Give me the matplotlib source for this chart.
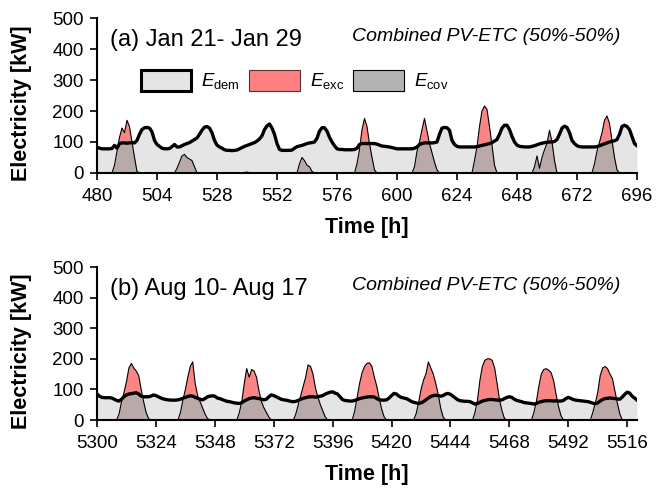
import numpy as np
import matplotlib
matplotlib.use('Agg')
import matplotlib.pyplot as plt
from matplotlib.patches import Patch

plt.rcParams['font.family'] = 'Liberation Sans'
plt.rcParams['mathtext.fontset'] = 'custom'
plt.rcParams['mathtext.rm'] = 'Liberation Sans'
plt.rcParams['mathtext.it'] = 'Liberation Sans:italic'

# (a) Jan 21 - Jan 29, hourly values from h=480 to h=696 [kW]
dem_a = [84, 80, 78, 78, 78, 78, 79, 89, 80, 95, 97, 97, 96, 97, 98, 97, 105, 125, 140, 146, 147, 145, 133, 105,
         92, 86, 80, 78, 78, 79, 85, 92, 84, 84, 88, 92, 95, 98, 103, 108, 113, 125, 138, 148, 150, 145, 130, 105,
         90, 84, 80, 75, 73, 73, 72, 73, 74, 78, 82, 86, 89, 92, 95, 98, 103, 110, 120, 140, 152, 158, 145, 125,
         95, 76, 73, 73, 73, 73, 74, 80, 85, 87, 89, 92, 95, 97, 98, 100, 112, 135, 146, 146, 135, 115, 100, 88,
         78, 76, 76, 75, 75, 75, 75, 76, 80, 92, 95, 95, 95, 95, 95, 95, 93, 90, 87, 86, 85, 84, 82, 80,
         78, 78, 78, 78, 78, 78, 78, 80, 84, 92, 95, 97, 97, 97, 97, 98, 100, 125, 145, 147, 146, 138, 105, 92,
         86, 84, 84, 84, 84, 84, 84, 84, 85, 87, 89, 91, 93, 95, 98, 103, 108, 125, 145, 154, 154, 140, 118, 100,
         90, 86, 85, 84, 84, 84, 86, 88, 91, 94, 96, 98, 99, 100, 100, 102, 108, 125, 145, 151, 147, 130, 105, 95,
         88, 85, 84, 84, 84, 84, 84, 84, 85, 88, 91, 94, 97, 100, 102, 104, 108, 125, 150, 154, 150, 140, 118, 95,
         88]
prod_a = [0, 0, 0, 0, 0, 0, 0, 25, 70, 115, 145, 130, 170, 150, 100, 50, 5, 0, 0, 0, 0, 0, 0, 0,
          0, 0, 0, 0, 0, 0, 0, 0, 15, 35, 55, 60, 50, 45, 40, 20, 0, 0, 0, 0, 0, 0, 0, 0,
          0, 0, 0, 0, 0, 0, 0, 0, 0, 0, 0, 2, 3, 1, 0, 0, 0, 0, 0, 0, 0, 0, 0, 0,
          0, 0, 0, 0, 0, 0, 0, 0, 0, 30, 50, 40, 25, 20, 5, 0, 0, 0, 0, 0, 0, 0, 0, 0,
          0, 0, 0, 0, 0, 0, 0, 0, 30, 75, 140, 176, 150, 95, 50, 10, 0, 0, 0, 0, 0, 0, 0, 0,
          0, 0, 0, 0, 0, 0, 0, 20, 70, 100, 140, 176, 135, 95, 65, 35, 10, 0, 0, 0, 0, 0, 0, 0,
          0, 0, 0, 0, 0, 0, 0, 40, 85, 150, 200, 216, 205, 150, 90, 25, 0, 0, 0, 0, 0, 0, 0, 0,
          0, 0, 0, 0, 0, 0, 0, 20, 55, 15, 50, 75, 95, 138, 100, 40, 0, 0, 0, 0, 0, 0, 0, 0,
          0, 0, 0, 0, 0, 0, 0, 30, 70, 100, 130, 170, 184, 160, 105, 50, 10, 0, 0, 0, 0, 0, 0, 0,
          0]

# (b) Aug 10 - Aug 17, hourly values from h=5300 to h=5520 [kW]
dem_b = [85, 78, 74, 73, 73, 73, 72, 68, 64, 62, 68, 76, 82, 85, 86, 88, 89, 85, 78, 76, 76, 76, 78, 82,
         80, 76, 72, 69, 67, 66, 65, 65, 65, 66, 68, 71, 74, 77, 79, 78, 74, 71, 68, 66, 70, 76, 78, 79,
         78, 72, 70, 67, 64, 61, 60, 58, 56, 55, 54, 57, 62, 66, 70, 72, 73, 71, 70, 68, 66, 68, 76, 82,
         80, 76, 72, 68, 66, 65, 63, 61, 60, 61, 64, 68, 71, 73, 75, 76, 76, 75, 76, 78, 80, 85, 88, 91,
         92, 88, 85, 76, 67, 64, 63, 62, 62, 64, 67, 70, 72, 74, 75, 76, 76, 75, 70, 66, 65, 65, 66, 72,
         80, 87, 85, 78, 74, 72, 70, 66, 61, 58, 56, 54, 56, 60, 66, 72, 77, 80, 81, 80, 78, 80, 85, 87,
         84, 78, 72, 66, 63, 62, 61, 61, 60, 56, 52, 54, 58, 62, 64, 66, 67, 67, 66, 65, 65, 66, 70, 74,
         76, 74, 68, 64, 62, 60, 57, 56, 55, 54, 52, 54, 58, 60, 62, 63, 63, 63, 62, 63, 62, 62, 64, 70,
         74, 71, 67, 65, 64, 63, 62, 61, 60, 58, 55, 53, 56, 62, 67, 70, 71, 72, 71, 70, 69, 68, 75, 84,
         91, 88, 78, 72, 65]
prod_b = [0, 0, 0, 0, 0, 0, 0, 0, 0, 20, 60, 90, 125, 170, 185, 170, 160, 145, 100, 60, 25, 5, 0, 0,
          0, 0, 0, 0, 0, 0, 0, 0, 0, 0, 25, 65, 100, 140, 175, 190, 120, 80, 60, 40, 20, 5, 0, 0,
          0, 0, 0, 0, 0, 0, 0, 0, 0, 0, 25, 60, 120, 168, 140, 165, 160, 140, 95, 60, 40, 25, 10, 0,
          0, 0, 0, 0, 0, 0, 0, 0, 0, 20, 50, 80, 110, 140, 180, 175, 150, 105, 75, 50, 30, 10, 0, 0,
          0, 0, 0, 0, 0, 0, 0, 0, 0, 30, 75, 120, 155, 175, 185, 187, 175, 140, 110, 70, 35, 10, 0, 0,
          0, 0, 0, 0, 0, 0, 0, 0, 0, 0, 20, 55, 100, 130, 150, 190, 170, 150, 120, 85, 40, 10, 0, 0,
          0, 0, 0, 0, 0, 0, 0, 0, 0, 0, 25, 65, 130, 175, 195, 200, 200, 195, 170, 120, 65, 30, 5, 0,
          0, 0, 0, 0, 0, 0, 0, 0, 0, 0, 25, 60, 110, 150, 165, 168, 163, 155, 130, 85, 45, 15, 0, 0,
          0, 0, 0, 0, 0, 0, 0, 0, 0, 0, 25, 55, 90, 145, 170, 175, 168, 150, 135, 95, 55, 20, 0, 0,
          0, 0, 0, 0, 0]

ticks_a = [480, 504, 528, 552, 576, 600, 624, 648, 672, 696]
ticks_b = [5300, 5324, 5348, 5372, 5396, 5420, 5444, 5468, 5492, 5516]

c_dem = '#e5e5e5'
c_exc = '#fa8585'
c_cov = '#b9a9a9'


def panel(ax, start, dem, prod, xlim, ticks, title):
    dem = np.array(dem, dtype=float)
    prod = np.array(prod, dtype=float)
    t = start + np.arange(len(dem))
    ax.fill_between(t, 0, dem, color=c_dem, lw=0)
    ax.fill_between(t, dem, prod, where=prod > dem, interpolate=True, color=c_exc, lw=0)
    ax.fill_between(t, 0, np.minimum(prod, dem), color=c_cov, lw=0)
    ax.plot(t, prod, color='black', lw=0.8)
    ax.plot(t, dem, color='black', lw=2.4, solid_joinstyle='round')

    ax.set_xlim(xlim)
    ax.set_ylim(0, 500)
    ax.set_xticks(ticks)
    ax.set_yticks([0, 100, 200, 300, 400, 500])
    ax.spines['top'].set_visible(False)
    ax.spines['right'].set_visible(False)
    ax.spines['left'].set_linewidth(1.5)
    ax.spines['bottom'].set_linewidth(1.5)
    ax.tick_params(direction='out', length=5, width=1.2, labelsize=13.5)
    ax.tick_params(axis='x', pad=6)
    ax.tick_params(axis='y', pad=4.5)
    ax.set_ylabel('Electricity [kW]', fontsize=15.5, fontweight='bold')
    ax.set_xlabel('Time [h]', fontsize=15.5, fontweight='bold')
    ax.yaxis.set_label_coords(-0.12, 0.45)
    ax.xaxis.set_label_coords(0.5, -0.285)
    ax.text(0.024, 0.82, title, transform=ax.transAxes, fontsize=17, va='baseline')
    ax.text(0.9685, 0.85, 'Combined PV-ETC (50%-50%)', transform=ax.transAxes,
            fontsize=14, style='italic', ha='right', va='baseline')


fig = plt.figure(figsize=(6.68, 4.88), dpi=100)
ax1 = fig.add_axes([0.1452, 0.6455, 0.8084, 0.3176])
ax2 = fig.add_axes([0.1452, 0.1393, 0.8084, 0.3135])

panel(ax1, 480, dem_a, prod_a, (480, 696), ticks_a, '(a) Jan 21- Jan 29')
panel(ax2, 5300, dem_b, prod_b, (5300, 5520), ticks_b, '(b) Aug 10- Aug 17')

handles = [Patch(facecolor=c_dem, edgecolor='black', linewidth=2.2, label=r'$E_{\rm dem}$'),
           Patch(facecolor='#ff8080', edgecolor='#603030', linewidth=0.8, label=r'$E_{\rm exc}$'),
           Patch(facecolor='#b3b3b3', edgecolor='black', linewidth=0.8, label=r'$E_{\rm cov}$')]
ax1.legend(handles=handles, loc='center left', bbox_to_anchor=(0.081, 0.597), ncol=3,
           frameon=False, fontsize=13.4, handlelength=2.7, handleheight=1.35,
           handletextpad=0.55, columnspacing=0.5, borderpad=0, borderaxespad=0)

fig.savefig('out.png', dpi=100)
